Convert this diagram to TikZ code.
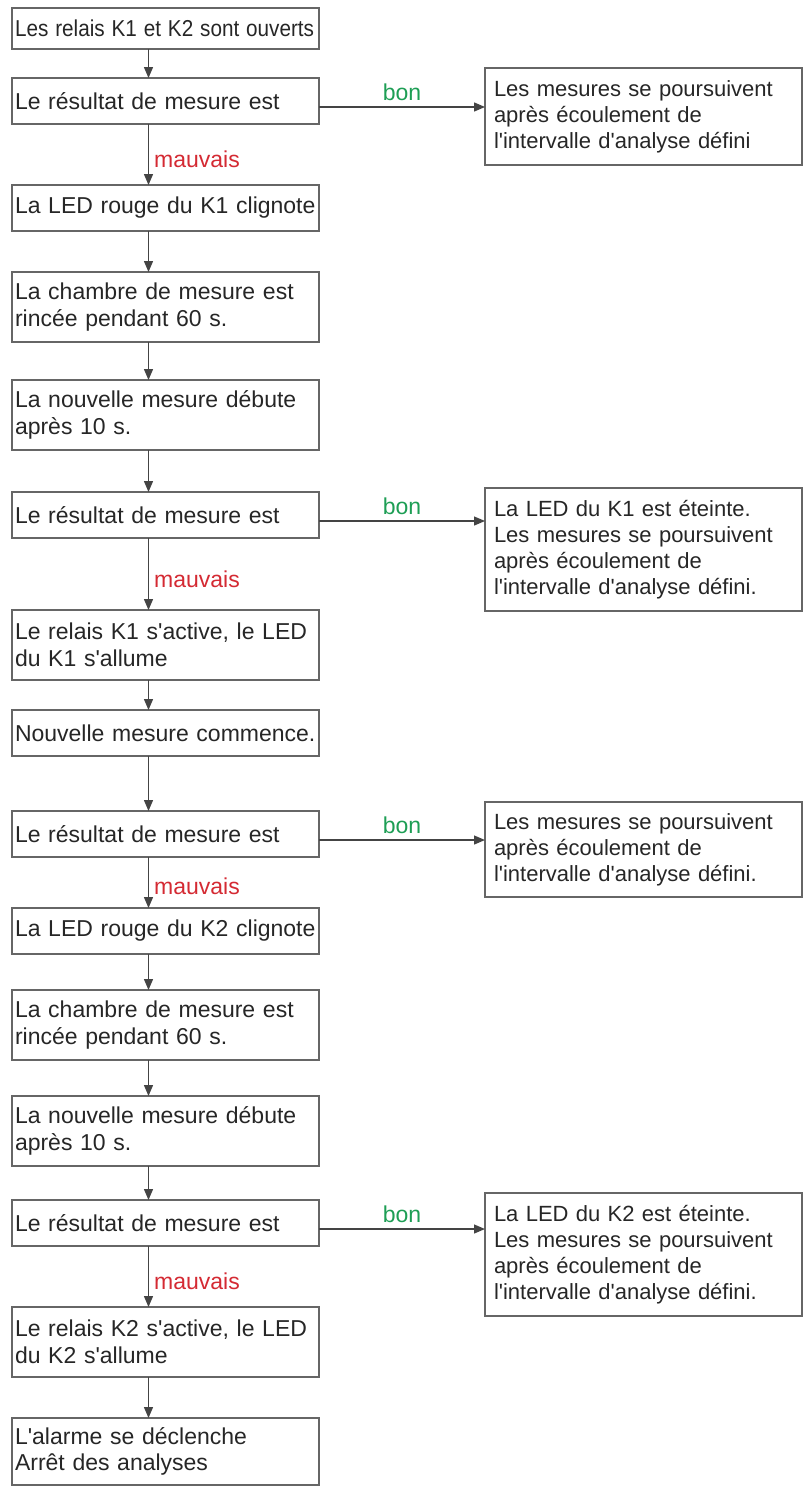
\documentclass[tikz,border=0pt]{standalone}
\usepackage{fontspec}
\setmainfont{Liberation Sans}[Ligatures=TeXOff]
\usepackage{graphicx}
\usetikzlibrary{arrows.meta,positioning}
\definecolor{bongreen}{HTML}{1E9E55}
\definecolor{badred}{HTML}{D42A33}
\definecolor{framegray}{HTML}{666666}
\definecolor{arrowgray}{HTML}{444444}
\definecolor{txtgray}{HTML}{262626}

\begin{document}
\begin{tikzpicture}[font=\fontsize{23}{26.5}\selectfont, >={Triangle[length=11pt, width=9pt]},
      box/.style={draw=framegray, line width=1.4pt, text=txtgray, align=left, text width=301pt,
                  inner xsep=3pt, inner ysep=2pt, outer sep=0pt, minimum height=46pt},
      box2/.style={box, minimum height=70pt},
      okbox/.style={draw=framegray, line width=1.4pt, text=txtgray, align=left, text width=299pt,
                    font=\fontsize{22}{26}\selectfont,
                    inner xsep=9pt, inner ysep=2pt, outer sep=0pt, anchor=north west},
      ar/.style={->, draw=arrowgray, line width=1.3pt},
      bad/.style={pos=0.58, right=3pt, inner sep=2pt, text=badred},
      good/.style={midway, above=4pt, inner sep=2pt, text=bongreen}]
    \useasboundingbox (0,0) rectangle (803pt,-1486pt);
    % --- main chain (left) ---
    \node[box, minimum height=41pt, anchor=north west] (s0) at (12pt,-8pt)
      {\scalebox{0.90}[1]{Les relais K1 et K2 sont ouverts}};
    \node[box, below=29pt of s0] (r1) {Le résultat de mesure est};
    \node[box, below=61pt of r1] (led1) {La LED rouge du K1 clignote};
    \node[box2, below=41pt of led1] (rinc1) {La chambre de mesure est\\rincée pendant 60 s.};
    \node[box2, below=38pt of rinc1] (new1) {La nouvelle mesure débute\\après 10 s.};
    \node[box, below=42pt of new1] (r2) {Le résultat de mesure est};
    \node[box2, below=72pt of r2] (rel1) {Le relais K1 s'active, le LED\\du K1 s'allume};
    \node[box, below=30pt of rel1] (cont) {Nouvelle mesure commence.};
    \node[box, below=55pt of cont] (r3) {Le résultat de mesure est};
    \node[box, below=51pt of r3] (led2) {La LED rouge du K2 clignote};
    \node[box2, below=36pt of led2] (rinc2) {La chambre de mesure est\\rincée pendant 60 s.};
    \node[box2, below=36pt of rinc2] (new2) {La nouvelle mesure débute\\après 10 s.};
    \node[box, below=34pt of new2] (r4) {Le résultat de mesure est};
    \node[box2, below=61pt of r4] (rel2) {Le relais K2 s'active, le LED\\du K2 s'allume};
    \node[box2, minimum height=67pt, below=41pt of rel2] (alarm) {L'alarme se déclenche\\Arrêt des analyses};
    % --- good results (right) ---
    \node[okbox, minimum height=97pt] (ok1) at ([xshift=166pt, yshift=10pt]r1.north east)
      {Les mesures se poursuivent\\après écoulement de\\l'intervalle d'analyse défini};
    \node[okbox, minimum height=123pt] (ok2) at ([xshift=166pt, yshift=4pt]r2.north east)
      {La LED du K1 est éteinte.\\Les mesures se poursuivent\\après écoulement de\\l'intervalle d'analyse défini.};
    \node[okbox, minimum height=95pt] (ok3) at ([xshift=166pt, yshift=9pt]r3.north east)
      {Les mesures se poursuivent\\après écoulement de\\l'intervalle d'analyse défini.};
    \node[okbox, minimum height=123pt] (ok4) at ([xshift=166pt, yshift=7pt]r4.north east)
      {La LED du K2 est éteinte.\\Les mesures se poursuivent\\après écoulement de\\l'intervalle d'analyse défini.};
    % --- vertical arrows, all on one line left of the box centres ---
    \coordinate (spine) at ([xshift=-17pt]s0.south);
    \draw[ar] (s0.south -| spine) -- (r1.north -| spine);
    \draw[ar] (r1.south -| spine) -- (led1.north -| spine) node[bad] {mauvais};
    \draw[ar] (led1.south -| spine) -- (rinc1.north -| spine);
    \draw[ar] (rinc1.south -| spine) -- (new1.north -| spine);
    \draw[ar] (new1.south -| spine) -- (r2.north -| spine);
    \draw[ar] (r2.south -| spine) -- (rel1.north -| spine) node[bad] {mauvais};
    \draw[ar] (rel1.south -| spine) -- (cont.north -| spine);
    \draw[ar] (cont.south -| spine) -- (r3.north -| spine);
    \draw[ar] (r3.south -| spine) -- (led2.north -| spine) node[bad] {mauvais};
    \draw[ar] (led2.south -| spine) -- (rinc2.north -| spine);
    \draw[ar] (rinc2.south -| spine) -- (new2.north -| spine);
    \draw[ar] (new2.south -| spine) -- (r4.north -| spine);
    \draw[ar] (r4.south -| spine) -- (rel2.north -| spine) node[bad] {mauvais};
    \draw[ar] (rel2.south -| spine) -- (alarm.north -| spine);
    % --- branches to the right ---
    \draw[ar] ([yshift=-6pt]r1.east) -- ([yshift=-6pt]r1.east -| ok1.west) node[good] {bon};
    \draw[ar] ([yshift=-6pt]r2.east) -- ([yshift=-6pt]r2.east -| ok2.west) node[good] {bon};
    \draw[ar] ([yshift=-6pt]r3.east) -- ([yshift=-6pt]r3.east -| ok3.west) node[good] {bon};
    \draw[ar] ([yshift=-6pt]r4.east) -- ([yshift=-6pt]r4.east -| ok4.west) node[good] {bon};
\end{tikzpicture}
\end{document}
